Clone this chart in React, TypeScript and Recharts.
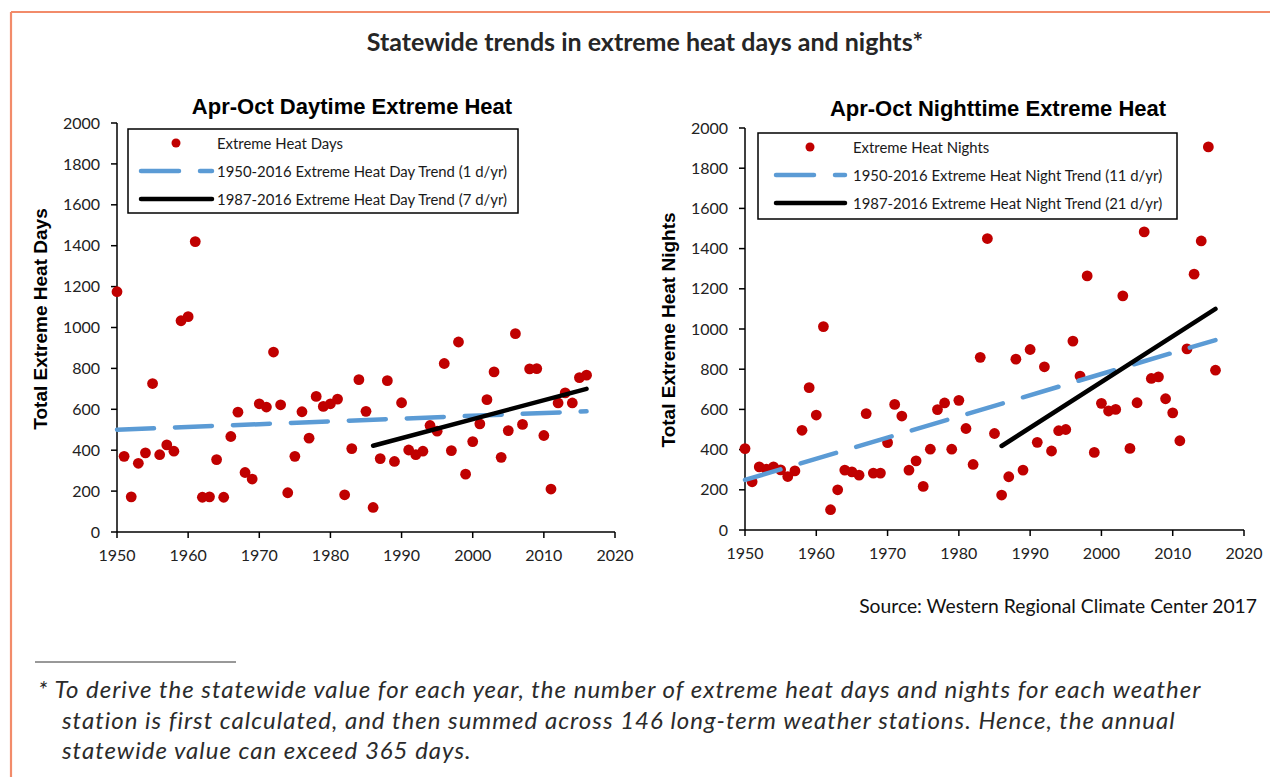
import { ScatterChart, Scatter, XAxis, YAxis } from 'recharts'

// years 1950-2016, one value per year
const years = [
  1950, 1951, 1952, 1953, 1954, 1955, 1956, 1957, 1958, 1959,
  1960, 1961, 1962, 1963, 1964, 1965, 1966, 1967, 1968, 1969,
  1970, 1971, 1972, 1973, 1974, 1975, 1976, 1977, 1978, 1979,
  1980, 1981, 1982, 1983, 1984, 1985, 1986, 1987, 1988, 1989,
  1990, 1991, 1992, 1993, 1994, 1995, 1996, 1997, 1998, 1999,
  2000, 2001, 2002, 2003, 2004, 2005, 2006, 2007, 2008, 2009,
  2010, 2011, 2012, 2013, 2014, 2015, 2016,
]

const heatDays = [
  1175, 370, 172, 336, 387, 726, 378, 426, 395, 1033,
  1053, 1420, 170, 172, 354, 170, 467, 586, 291, 259,
  627, 611, 880, 622, 192, 370, 588, 459, 663, 614,
  627, 650, 182, 408, 745, 590, 120, 359, 740, 345,
  632, 401, 378, 395, 521, 493, 824, 398, 929, 283,
  442, 529, 647, 783, 365, 496, 970, 526, 798, 799,
  472, 210, 631, 680, 631, 755, 767,
]

const heatNights = [
  405, 240, 314, 303, 314, 299, 266, 294, 496, 708,
  572, 1012, 101, 200, 298, 289, 273, 579, 283, 283,
  435, 625, 567, 298, 344, 217, 402, 599, 632, 402,
  645, 505, 326, 859, 1450, 480, 174, 265, 850, 298,
  898, 436, 812, 393, 494, 500, 940, 766, 1264, 386,
  630, 592, 600, 1165, 406, 633, 1483, 754, 762, 653,
  583, 444, 901, 1273, 1438, 1906, 795,
]

// trend end points
const dayTrendLong = [{ year: 1950, value: 500 }, { year: 2016, value: 590 }]
const dayTrendShort = [{ year: 1986, value: 422 }, { year: 2016, value: 700 }]
const nightTrendLong = [{ year: 1950, value: 249 }, { year: 2016, value: 945 }]
const nightTrendShort = [{ year: 1986, value: 418 }, { year: 2016, value: 1100 }]

const xTicks = [1950, 1960, 1970, 1980, 1990, 2000, 2010, 2020]
const yTicks = [0, 200, 400, 600, 800, 1000, 1200, 1400, 1600, 1800, 2000]

const dayPoints = years.map((y, i) => ({ year: y, value: heatDays[i] }))
const nightPoints = years.map((y, i) => ({ year: y, value: heatNights[i] }))

const RED = '#C00000'
const BLUE = '#5B9BD5'
const tickStyle = { fontFamily: 'Lato', fontSize: 16, fill: '#222' }

const Dot = (props: any) => <circle cx={props.cx} cy={props.cy} r={5.4} fill={RED} />
const NoDot = () => <g />

function Panel({ points, longTrend, shortTrend, margin }: any) {
  return (
    <ScatterChart width={620} height={500} margin={margin}>
      <XAxis
        type="number"
        dataKey="year"
        domain={[1950, 2020]}
        ticks={xTicks}
        height={30}
        tick={tickStyle}
        tickMargin={12}
        tickSize={6}
        stroke="#000"
        strokeWidth={1.5}
        interval={0}
      />
      <YAxis
        type="number"
        dataKey="value"
        domain={[0, 2000]}
        ticks={yTicks}
        width={60}
        tick={tickStyle}
        tickMargin={11}
        tickSize={6}
        stroke="#000"
        strokeWidth={1.5}
        interval={0}
      />
      <Scatter data={points} shape={Dot} isAnimationActive={false} />
      <Scatter
        data={longTrend}
        shape={NoDot}
        line={{ stroke: BLUE, strokeWidth: 4.5, strokeDasharray: '37 21', strokeLinecap: 'round' }}
        isAnimationActive={false}
      />
      <Scatter
        data={shortTrend}
        shape={NoDot}
        line={{ stroke: '#000', strokeWidth: 4.5, strokeLinecap: 'round' }}
        isAnimationActive={false}
      />
    </ScatterChart>
  )
}

function LegendBox({ x, y, w, h, dotX, textX, lineX1, lineX2, labels }: any) {
  const font = { fontFamily: 'Lato', fontSize: 14.9, fill: '#1a1a1a' }
  return (
    <g transform={`translate(${x},${y})`}>
      <rect x={0} y={0} width={w} height={h} fill="#fff" stroke="#000" strokeWidth={1.5} />
      <circle cx={dotX} cy={14} r={4.5} fill={RED} />
      <text x={textX} y={14} dominantBaseline="central" {...font}>{labels[0]}</text>
      <line x1={lineX1} y1={42} x2={lineX2} y2={42} stroke={BLUE} strokeWidth={4.5}
        strokeDasharray="38 21" strokeLinecap="round" />
      <text x={textX} y={42} dominantBaseline="central" {...font}>{labels[1]}</text>
      <line x1={lineX1} y1={70} x2={lineX2} y2={70} stroke="#000" strokeWidth={4.5} strokeLinecap="round" />
      <text x={textX} y={70} dominantBaseline="central" {...font}>{labels[2]}</text>
    </g>
  )
}

export default function App() {
  return (
    <div style={{ position: 'absolute', left: 0, top: 0, width: 1270, height: 777, background: '#fff', overflow: 'hidden' }}>
      <div style={{ position: 'absolute', left: 20, top: 80 }}>
        <Panel points={dayPoints} longTrend={dayTrendLong} shortTrend={dayTrendShort}
          margin={{ top: 43, right: 25, bottom: 18, left: 37 }} />
      </div>
      <div style={{ position: 'absolute', left: 650, top: 80 }}>
        <Panel points={nightPoints} longTrend={nightTrendLong} shortTrend={nightTrendShort}
          margin={{ top: 48, right: 26, bottom: 20, left: 35 }} />
      </div>

      <svg width={1270} height={777} style={{ position: 'absolute', left: 0, top: 0, pointerEvents: 'none' }}>
        {/* orange frame */}
        <line x1={11} y1={12} x2={1270} y2={12} stroke="#F28B6A" strokeWidth={2.2} />
        <line x1={11} y1={12} x2={11} y2={777} stroke="#F28B6A" strokeWidth={2.2} />

        <text x={645} y={41} textAnchor="middle" dominantBaseline="central"
          fontFamily="Lato" fontWeight={700} fontSize={25} fill="#262626">
          Statewide trends in extreme heat days and nights*
        </text>

        <text x={352} y={106} textAnchor="middle" dominantBaseline="central"
          fontFamily="Liberation Sans" fontWeight={700} fontSize={22} fill="#000">
          Apr-Oct Daytime Extreme Heat
        </text>
        <text x={998} y={108} textAnchor="middle" dominantBaseline="central"
          fontFamily="Liberation Sans" fontWeight={700} fontSize={22} fill="#000">
          Apr-Oct Nighttime Extreme Heat
        </text>

        <text transform="translate(40,319) rotate(-90)" textAnchor="middle" dominantBaseline="central"
          fontFamily="Liberation Sans" fontWeight={700} fontSize={19} fill="#000">
          Total Extreme Heat Days
        </text>
        <text transform="translate(668,330) rotate(-90)" textAnchor="middle" dominantBaseline="central"
          fontFamily="Liberation Sans" fontWeight={700} fontSize={19} fill="#000">
          Total Extreme Heat Nights
        </text>

        <LegendBox x={128} y={129} w={390} h={84} dotX={48} textX={89} lineX1={13} lineX2={84}
          labels={['Extreme Heat Days', '1950-2016 Extreme Heat Day Trend (1 d/yr)', '1987-2016 Extreme Heat Day Trend (7 d/yr)']} />
        <LegendBox x={758} y={133} w={419} h={86} dotX={52} textX={95} lineX1={18} lineX2={87}
          labels={['Extreme Heat Nights', '1950-2016 Extreme Heat Night Trend (11 d/yr)', '1987-2016 Extreme Heat Night Trend (21 d/yr)']} />

        <text x={1257} y={605} textAnchor="end" dominantBaseline="central"
          fontFamily="Lato" fontSize={19.3} fill="#111">
          Source: Western Regional Climate Center 2017
        </text>

        <line x1={35} y1={662} x2={236} y2={662} stroke="#333" strokeWidth={1} />
        <g fontFamily="Lato" fontStyle="italic" fontSize={24} letterSpacing={1} fill="#2b2b2b">
          <text x={38} y={688} dominantBaseline="central">
            * To derive the statewide value for each year, the number of extreme heat days and nights for each weather
          </text>
          <text x={62} y={719} dominantBaseline="central">
            station is first calculated, and then summed across 146 long-term weather stations. Hence, the annual
          </text>
          <text x={62} y={749} dominantBaseline="central">
            statewide value can exceed 365 days.
          </text>
        </g>
      </svg>
    </div>
  )
}
